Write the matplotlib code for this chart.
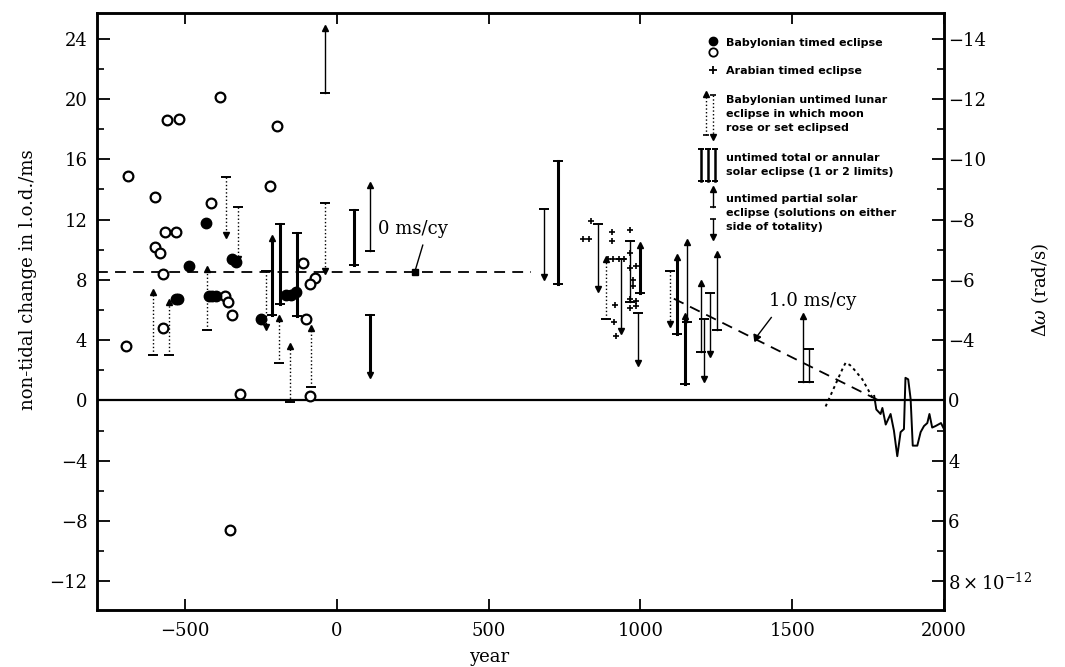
import numpy as np
import matplotlib
matplotlib.use("Agg")
import matplotlib.pyplot as plt
from matplotlib.ticker import MultipleLocator, FixedLocator, FixedFormatter

plt.rcParams['font.family'] = 'DejaVu Serif'
plt.rcParams['mathtext.fontset'] = 'dejavuserif'

# Babylonian timed eclipses (open / filled circles)
open_years = [-695, -687, -599, -561, -520, -385, -197, -221, -416, -566, -531, -599, -583,
              -572, -574, -367, -358, -345, -320, -352, -113, -73, -89, -100, -89]
open_vals = [3.6, 14.9, 13.5, 18.6, 18.7, 20.1, 18.2, 14.2, 13.1, 11.2, 11.2, 10.2, 9.8,
             8.4, 4.8, 6.9, 6.5, 5.7, 0.4, -8.6, 9.1, 8.1, 7.7, 5.4, 0.3]
filled_years = [-487, -431, -530, -523, -421, -410, -398, -346, -331, -249, -166, -150, -133]
filled_vals = [8.9, 11.8, 6.7, 6.7, 6.9, 6.9, 6.9, 9.35, 9.2, 5.4, 7.0, 7.0, 7.2]

# Arabian timed eclipses
arab_years = [810, 831, 836, 893, 906, 906, 910, 914, 917, 920, 928, 946, 964, 964,
              964, 975, 986, 975, 964, 986, 964, 986]
arab_vals = [10.7, 10.7, 11.9, 9.35, 11.2, 10.6, 9.35, 5.2, 6.3, 4.3, 9.35, 9.35, 11.3, 9.8,
             8.8, 8.0, 8.9, 7.6, 6.7, 6.6, 6.1, 6.25]

# untimed lunar eclipses (dotted): bar end -> far end (arrow)
lunar_years = [-607, -553, -427, -364, -325, -232, -190, -155, -84, -38, 888, 1097]
lunar_from = [3.0, 3.0, 4.7, 14.8, 12.8, 8.6, 2.5, -0.1, 0.9, 13.1, 5.4, 8.6]
lunar_to = [7.2, 6.5, 8.7, 11.0, 9.4, 4.9, 5.5, 3.6, 4.8, 8.6, 9.35, 5.1]

# untimed total / annular solar eclipses (thick)
total_years = [-212, -188, -130, 56, 108, 730, 997, 1119, 1146]
total_from = [5.7, 6.4, 5.6, 9.0, 5.7, 7.7, 7.1, 4.4, 1.1]
total_to = [10.8, 11.7, 11.1, 12.6, 1.7, 15.9, 10.3, 9.5, 5.6]
total_arrow = [1, 0, 0, 0, 1, 0, 1, 1, 1]

# untimed partial solar eclipses (thin)
partial_years = [-38, 108, 681, 861, 935, 964, 991, 1155, 1199, 1210, 1230, 1251, 1535, 1555]
partial_from = [20.4, 9.9, 12.7, 11.7, 9.35, 10.6, 5.8, 5.2, 3.2, 5.4, 7.1, 4.7, 1.2, 1.2]
partial_to = [24.7, 14.3, 8.2, 7.4, 4.6, 6.5, 2.5, 10.5, 7.8, 1.4, 3.05, 9.7, 5.6, 3.4]
partial_arrow = [1, 1, 1, 1, 1, 0, 1, 1, 1, 1, 1, 1, 1, 0]

# trend lines
zero_years = [-790, 640]
zero_vals = [8.5, 8.5]
one_years = [1110, 1785]
one_vals = [6.75, 0.0]

# pre-telescopic (dotted) and modern (solid) curves
dotted_years = [1610, 1630, 1650, 1668, 1676, 1690, 1704, 1731, 1753, 1764, 1772]
dotted_vals = [-0.4, 0.5, 1.4, 2.2, 2.5, 2.35, 2.05, 1.4, 0.6, 0.2, 0.0]
modern_years = [1770, 1777, 1791, 1797, 1808, 1824, 1835, 1846, 1857, 1868, 1873, 1882,
                1890, 1897, 1912, 1923, 1934, 1945, 1952, 1961, 1972, 1990, 2000]
modern_vals = [0.3, -0.6, -0.9, -0.5, -1.6, -0.9, -2.0, -3.7, -2.1, -1.9, 1.5, 1.4,
               0.1, -3.0, -3.0, -2.1, -1.7, -1.5, -0.9, -1.8, -1.7, -1.5, -1.9]

right_ticks = [24, 20, 16, 12, 8, 4, 0, -4, -8, -12]
right_labels = ['\u221214', '\u221212', '\u221210', '\u22128', '\u22126', '\u22124',
                '0', '4', '6', r'$8\times10^{-12}$']


def draw_ranges(ax, years, v0, v1, arrows, lw, ls):
    for x, a, b, arr in zip(years, v0, v1, arrows):
        ax.plot([x, x], [a, b], color='k', lw=lw, ls=ls)
        ax.plot(x, a, marker='_', ms=7, mew=1.4, color='k')
        if arr:
            ax.plot(x, b, marker='^' if b > a else 'v', ms=5, color='k')
        else:
            ax.plot(x, b, marker='_', ms=7, mew=1.4, color='k')


fig = plt.figure(figsize=(10.65, 6.67), dpi=100)
ax = fig.add_axes([0.0911, 0.0855, 0.7953, 0.895])

ax.axhline(0, color='k', lw=1.6)
ax.plot(zero_years, zero_vals, color='k', lw=1.3, dashes=(6, 4))
ax.plot(one_years, one_vals, color='k', lw=1.3, dashes=(6, 4))
ax.plot(dotted_years, dotted_vals, color='k', lw=1.4, dashes=(1.5, 1.8))
ax.plot(modern_years, modern_vals, color='k', lw=1.4)

draw_ranges(ax, lunar_years, lunar_from, lunar_to, [1] * len(lunar_years), 1.0, ':')
draw_ranges(ax, total_years, total_from, total_to, total_arrow, 2.2, '-')
draw_ranges(ax, partial_years, partial_from, partial_to, partial_arrow, 1.0, '-')

ax.plot(open_years, open_vals, 'o', ms=7, mfc='white', mec='k', mew=1.6)
ax.plot(filled_years, filled_vals, 'o', ms=7.5, color='k')
ax.plot(arab_years, arab_vals, '+', ms=5, mew=1.2, color='k')

# labels of the two trend lines
ax.text(250, 11.4, '0 ms/cy', fontsize=13, ha='center', va='center')
ax.plot([283, 257], [10.3, 8.55], color='k', lw=1.0)
ax.plot(257, 8.5, 's', ms=5, color='k')
ax.text(1566, 6.6, '1.0 ms/cy', fontsize=13, ha='center', va='center')
ax.plot([1431, 1382], [5.5, 4.2], color='k', lw=1.0)
ax.plot(1382, 4.2, marker=(3, 0, 37), ms=6, color='k')

ax.set_xlim(-790, 2000)
ax.set_ylim(-13.9, 25.7)
ax.xaxis.set_major_locator(MultipleLocator(500))
ax.yaxis.set_major_locator(MultipleLocator(4))
ax.yaxis.set_minor_locator(MultipleLocator(2))
ax.tick_params(axis='x', which='major', direction='in', top=True, length=8, width=1.3,
               labelsize=13, pad=9)
ax.tick_params(axis='y', which='major', direction='in', length=9, width=1.3,
               labelsize=13, pad=7)
ax.tick_params(axis='y', which='minor', direction='in', length=5, width=1.2)
ax.set_xticklabels([str(int(v)).replace('-', '\u2212') for v in ax.get_xticks()])
for s in ax.spines.values():
    s.set_linewidth(1.8)

ax2 = ax.twinx()
ax2.set_ylim(ax.get_ylim())
ax2.yaxis.set_major_locator(FixedLocator(right_ticks))
ax2.yaxis.set_major_formatter(FixedFormatter(right_labels))
ax2.yaxis.set_minor_locator(MultipleLocator(2))
ax2.tick_params(axis='y', which='major', direction='in', length=9, width=1.3,
                labelsize=13, pad=3)
ax2.tick_params(axis='y', which='minor', direction='in', length=5, width=1.2)
for s in ax2.spines.values():
    s.set_linewidth(1.8)

fig.text(0.026, 0.58, 'non-tidal change in l.o.d./ms', rotation=90, fontsize=13,
         ha='center', va='center')
fig.text(0.977, 0.565, r'$\Delta\omega$ (rad/s)', rotation=90, fontsize=13,
         ha='center', va='center')
fig.text(0.459, 0.015, 'year', fontsize=13, ha='center', va='center')

# hand-drawn key in the top right corner
tr = ax.transAxes
kw = dict(transform=tr, fontsize=8, fontweight='bold', family='DejaVu Sans',
          va='center', ha='left', linespacing=1.5)
ax.plot(0.727, 0.953, 'o', ms=6, color='k', transform=tr)
ax.plot(0.727, 0.935, 'o', ms=6, mfc='white', mec='k', mew=1.3, transform=tr)
ax.text(0.743, 0.950, 'Babylonian timed eclipse', **kw)
ax.plot(0.727, 0.905, '+', ms=6, mew=1.3, color='k', transform=tr)
ax.text(0.743, 0.903, 'Arabian timed eclipse', **kw)
ax.plot([0.719, 0.719], [0.795, 0.865], ls=':', color='k', lw=1.0, transform=tr)
ax.plot(0.719, 0.865, '^', ms=4, color='k', transform=tr)
ax.plot(0.719, 0.795, '_', ms=5, mew=1.2, color='k', transform=tr)
ax.plot([0.727, 0.727], [0.793, 0.863], ls=':', color='k', lw=1.0, transform=tr)
ax.plot(0.727, 0.863, '_', ms=5, mew=1.2, color='k', transform=tr)
ax.plot(0.727, 0.793, 'v', ms=4, color='k', transform=tr)
ax.text(0.743, 0.83, 'Babylonian untimed lunar\neclipse in which moon\nrose or set eclipsed', **kw)
for fx in (0.713, 0.721, 0.730):
    ax.plot([fx, fx], [0.718, 0.773], color='k', lw=1.8, transform=tr)
    ax.plot([fx], [0.773], '_', ms=5, mew=1.4, color='k', transform=tr)
    ax.plot([fx], [0.718], '_', ms=5, mew=1.4, color='k', transform=tr)
ax.text(0.743, 0.745, 'untimed total or annular\nsolar eclipse (1 or 2 limits)', **kw)
ax.plot([0.727, 0.727], [0.675, 0.705], color='k', lw=1.0, transform=tr)
ax.plot(0.727, 0.705, '^', ms=4, color='k', transform=tr)
ax.plot(0.727, 0.675, '_', ms=5, mew=1.2, color='k', transform=tr)
ax.plot([0.727, 0.727], [0.625, 0.655], color='k', lw=1.0, transform=tr)
ax.plot(0.727, 0.655, '_', ms=5, mew=1.2, color='k', transform=tr)
ax.plot(0.727, 0.625, 'v', ms=4, color='k', transform=tr)
ax.text(0.743, 0.665, 'untimed partial solar\neclipse (solutions on either\nside of totality)', **kw)

fig.savefig('out.png', dpi=100)
